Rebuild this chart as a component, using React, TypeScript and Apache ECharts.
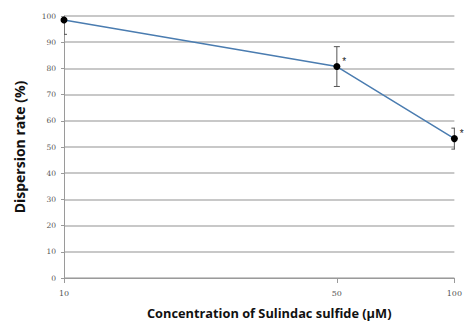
import React, { useEffect, useRef } from "react";
import * as echarts from "echarts";

const concentrations = [10, 50, 100];
const dispersionRate = [98.5, 80.7, 53.2];
const errorValues = [5.5, 7.6, 4.0];
const significance = ["", "*", "*"];
const xTickLabels = [10, 50, 100];

export default function App() {
  const ref = useRef<HTMLDivElement>(null);
  useEffect(() => {
    const chart = echarts.init(ref.current!, undefined, { renderer: "svg" });
    const lineData = concentrations.map((c, i) => [c, dispersionRate[i]]);
    const errData = concentrations.map((c, i) => [c, dispersionRate[i] - errorValues[i], dispersionRate[i] + errorValues[i]]);
    chart.setOption({
      animation: false,
      grid: { left: 64, right: 8, top: 16, bottom: 51 },
      xAxis: {
        type: "log",
        logBase: 10,
        min: 10,
        max: 100,
        name: "Concentration of Sulindac sulfide (µM)",
        nameLocation: "middle",
        nameGap: 28,
        nameTextStyle: { fontFamily: "Open Sans", fontWeight: "bold", fontSize: 12.8, color: "#111", padding: [0, 0, 0, 20] },
        axisLine: { lineStyle: { color: "#9a9a9a", width: 1 } },
        axisTick: { show: true, length: 5, customValues: xTickLabels, lineStyle: { color: "#9a9a9a" } },
        axisLabel: { customValues: xTickLabels, fontSize: 8, color: "#555", fontFamily: "DejaVu Serif", margin: 11 },
        splitLine: { show: false },
        minorTick: { show: false },
      },
      yAxis: {
        type: "value",
        min: 0,
        max: 100,
        interval: 10,
        name: "Dispersion rate (%)",
        nameLocation: "middle",
        nameGap: 38,
        nameTextStyle: { fontFamily: "Open Sans", fontWeight: "bold", fontSize: 14, color: "#111" },
        axisLine: { show: true, lineStyle: { color: "#9a9a9a", width: 1 } },
        axisTick: { show: true, length: 3, lineStyle: { color: "#9a9a9a" } },
        axisLabel: { fontSize: 7.5, color: "#555", fontFamily: "DejaVu Serif", margin: 8 },
        splitLine: { lineStyle: { color: "#c8c8c8", width: 2 } },
      },
      series: [
        {
          type: "custom",
          clip: true,
          z: 3,
          data: errData,
          renderItem: (params: any, api: any) => {
            const x = api.value(0);
            const lo = api.coord([x, api.value(1)]);
            const hi = api.coord([x, api.value(2)]);
            const w = 3;
            const style = { stroke: "#555", lineWidth: 1 };
            return {
              type: "group",
              children: [
                { type: "line", shape: { x1: lo[0], y1: lo[1], x2: hi[0], y2: hi[1] }, style },
                { type: "line", shape: { x1: lo[0] - w, y1: lo[1], x2: lo[0] + w, y2: lo[1] }, style },
                { type: "line", shape: { x1: hi[0] - w, y1: hi[1], x2: hi[0] + w, y2: hi[1] }, style },
              ],
            };
          },
        },
        {
          type: "line",
          z: 4,
          label: { color: "#222", fontSize: 10 },
          data: lineData.map((d, i) => ({
            value: d,
            label: {
              show: significance[i] !== "",
              formatter: significance[i],
              position: "right",
              offset: [-3, -5],
              fontSize: 10,
              color: "#222",
            },
          })),
          symbol: "circle",
          symbolSize: 7,
          itemStyle: { color: "#000" },
          lineStyle: { color: "#4a7cb0", width: 1.5 },
        },
      ],
    });
    return () => chart.dispose();
  }, []);
  return <div ref={ref} style={{ width: 465, height: 329, position: "absolute", left: 0, top: 0, background: "#fff" }} />;
}
